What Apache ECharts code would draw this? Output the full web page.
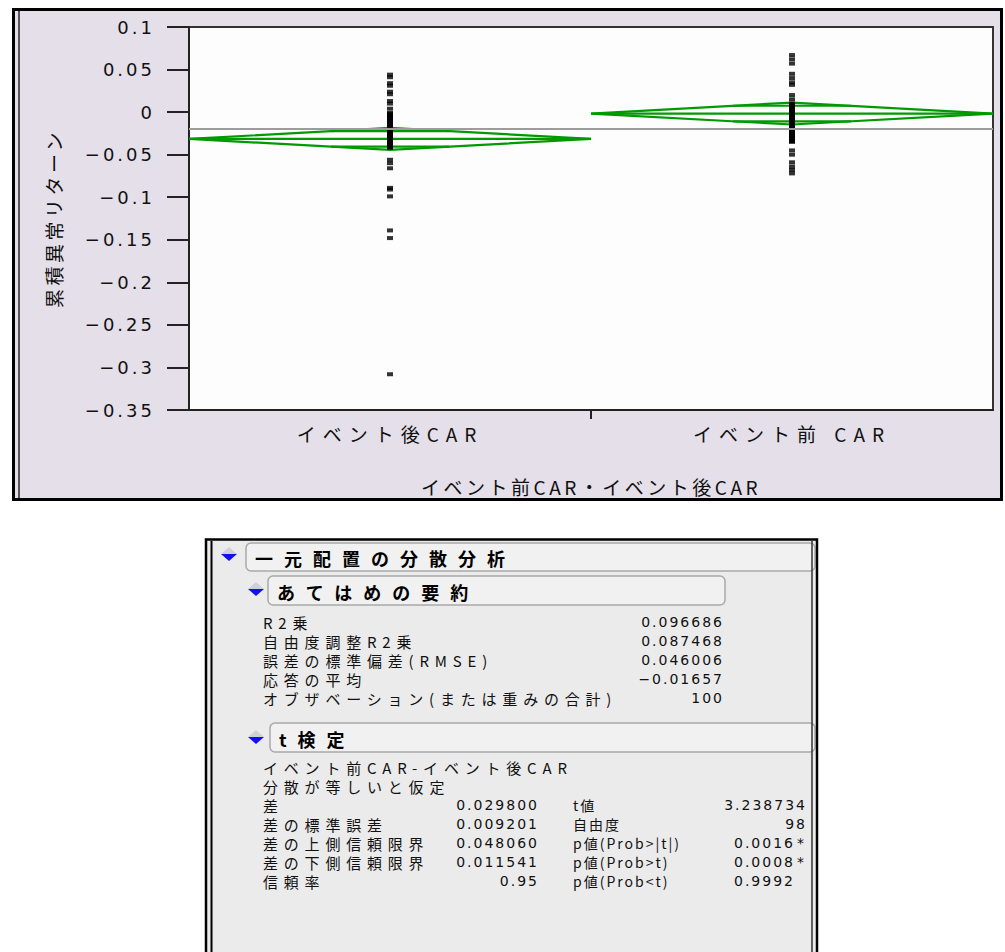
<!DOCTYPE html>
<html>
<head>
<meta charset="utf-8">
<script src="https://cdn.jsdelivr.net/npm/echarts@6/dist/echarts.min.js"></script>
<style>
  html, body { margin: 0; padding: 0; background: #ffffff; }
  #chart { width: 1005px; height: 952px; }
  /* wide, evenly spaced lettering of the report and axis texts */
  #chart text[style*="Roboto"] { letter-spacing: 11px; }
  #chart text[style*="Inter"] { letter-spacing: 5.8px; }
  #chart text[style*="Lato"] { letter-spacing: 2px; }
  #chart text[style*="Liberation"] { letter-spacing: 3px; }
  #chart text[style*="Open"] { letter-spacing: 7px; }
  #chart text[style*="Serif"] { letter-spacing: 3.5px; }
</style>
</head>
<body>
<div id="chart"></div>
<script>
// Groups on the x axis
const categories = ['イベント後CAR', 'イベント前 CAR'];

// Cumulative abnormal returns, one value per firm
const postEventCAR = [
  0.044, 0.041, 0.034, 0.031, 0.024, 0.021, 0.013, 0.010, 0.004,
  -0.001, -0.002, -0.004, -0.005, -0.007, -0.008, -0.010, -0.011, -0.013, -0.014,
  -0.016, -0.017, -0.019, -0.020, -0.022, -0.023, -0.025, -0.026, -0.028, -0.029,
  -0.031, -0.032, -0.033, -0.034, -0.035, -0.036, -0.037, -0.038, -0.039, -0.040,
  -0.041, -0.042,
  -0.056, -0.060, -0.066, -0.089, -0.091, -0.099, -0.139, -0.148, -0.308
];
const preEventCAR = [
  0.067, 0.062, 0.057, 0.045, 0.040, 0.035, 0.032, 0.020, 0.015,
  0.010, 0.009, 0.008, 0.006, 0.005, 0.003, 0.002, 0.000, -0.001, -0.003,
  -0.004, -0.006, -0.007, -0.009, -0.010, -0.012, -0.013, -0.015, -0.016, -0.018,
  -0.019, -0.021, -0.022, -0.024, -0.025, -0.026, -0.027, -0.028, -0.029, -0.030,
  -0.031, -0.032, -0.033, -0.034, -0.035,
  -0.045, -0.050, -0.059, -0.064, -0.068, -0.072
];

// Means diamonds: group mean, 95% interval and overlap marks
const groupMeans   = [-0.03147, -0.00167];
const ciLower      = [-0.04438, -0.01458];
const ciUpper      = [-0.01856,  0.01124];
const overlapLower = [-0.04060, -0.01080];
const overlapUpper = [-0.02234,  0.00746];
const meanResponse = -0.01657;

// y axis
const yMin = -0.35, yMax = 0.1, yStep = 0.05;
const yTickLabels = ['−0.35', '−0.3', '−0.25', '−0.2', '−0.15', '−0.1', '−0.05', '0', '0.05', '0.1'];
const groupDivider = [1];

// Report texts
const reportTitle = '一元配置の分散分析';
const fitTitle = 'あてはめの要約';
const fitLabels = ['R2乗', '自由度調整R2乗', '誤差の標準偏差(RMSE)', '応答の平均', 'オブザベーション(または重みの合計)'];
const fitValues = ['0.096686', '0.087468', '0.046006', '−0.01657', '100'];
const tTitle = 't検定';
const tHeaderLines = ['イベント前CAR-イベント後CAR', '分散が等しいと仮定'];
const tLabels = ['差', '差の標準誤差', '差の上側信頼限界', '差の下側信頼限界', '信頼率'];
const tValues = ['0.029800', '0.009201', '0.048060', '0.011541', '0.95'];
const tLabels2 = ['t値', '自由度', 'p値(Prob>|t|)', 'p値(Prob>t)', 'p値(Prob<t)'];
const tValues2 = ['3.238734', '98', '0.0016', '0.0008', '0.9992'];
const tFlags2 = ['', '', '*', '*', ''];

// font stacks (the second family also keys the letter spacing above)
const F_HEAD = "'Noto Sans CJK JP', Roboto";
const F_ROW = "'Noto Sans CJK JP', Inter";
const F_ROW2 = "'Noto Sans CJK JP', Lato";
const F_NUM = "'DejaVu Sans', Lato";
const F_TICK = "'DejaVu Sans', 'Liberation Sans'";
const F_CAT = "'Noto Sans CJK JP', 'Open Sans'";
const F_NAME = "'Noto Sans CJK JP', 'DejaVu Serif'";
const GREEN = '#009a00';

const chart = echarts.init(document.getElementById('chart'), null, { renderer: 'svg' });

// ---- report panel drawn with graphic elements ----
function text(x, y, str, opt) {
  return {
    type: 'text', z: 10,
    style: {
      x: x, y: y, text: str,
      fill: opt.fill || '#111',
      font: (opt.weight || 'normal') + ' ' + opt.size + 'px ' + opt.family,
      textAlign: opt.align || 'left',
      textVerticalAlign: 'middle'
    }
  };
}
function toggleIcon(cx, cy) {
  return [
    { type: 'polygon', z: 10, shape: { points: [[cx - 8, cy], [cx, cy - 7], [cx + 8, cy]] }, style: { fill: '#d0d0d8' } },
    { type: 'polygon', z: 10, shape: { points: [[cx - 8, cy], [cx, cy + 7], [cx + 8, cy]] }, style: { fill: '#1010f0' } }
  ];
}
function headerBox(x, y, w, h, label) {
  return [
    { type: 'rect', z: 9, shape: { x: x, y: y, width: w, height: h, r: 5 },
      style: { fill: '#f1f1f1', stroke: '#a9a9a9', lineWidth: 1.5 } },
    text(x + 9, y + h / 2 + 1, label, { size: 18, weight: 'bold', fill: '#000', family: F_HEAD })
  ];
}
const row = { size: 15, family: F_ROW };
const row2 = { size: 14, family: F_ROW2 };
const num = (align) => ({ size: 14, family: F_NUM, align: align });

const graphics = [];
// chart panel with its double left edge
graphics.push({ type: 'rect', z: -20, shape: { x: 13.5, y: 9.5, width: 988, height: 490 },
  style: { fill: '#e4dfe8', stroke: '#000', lineWidth: 3 } });
graphics.push({ type: 'line', z: -19, shape: { x1: 19, y1: 11, x2: 19, y2: 498 },
  style: { stroke: '#555', lineWidth: 2 } });
// report panel
graphics.push({ type: 'rect', z: 5, shape: { x: 206, y: 539, width: 611, height: 420 },
  style: { fill: '#ebebeb' } });
graphics.push(...toggleIcon(229, 554));
graphics.push(...headerBox(246, 543, 569, 28, reportTitle));
graphics.push(...toggleIcon(256, 589));
graphics.push(...headerBox(268, 576, 457, 29, fitTitle));
fitLabels.forEach((l, i) => {
  graphics.push(text(263, 622 + i * 19, l, row));
  graphics.push(text(724, 622 + i * 19, fitValues[i], num('right')));
});
graphics.push(...toggleIcon(256, 737));
graphics.push(...headerBox(270, 723, 545, 29, tTitle));
tHeaderLines.forEach((l, i) => {
  graphics.push(text(263, 767 + i * 19, l, row));
});
tLabels.forEach((l, i) => {
  const y = 805 + i * 19;
  graphics.push(text(263, y, l, row));
  graphics.push(text(539, y, tValues[i], num('right')));
  graphics.push(text(573, y, tLabels2[i], row2));
  const right = i >= 2 ? 795 : 807;
  graphics.push(text(right, y, tValues2[i], num('right')));
  if (tFlags2[i]) graphics.push(text(797, y, tFlags2[i], num('left')));
});
// report panel borders on top of the header boxes
graphics.push({ type: 'rect', z: 12, shape: { x: 206, y: 539.5, width: 611, height: 420 },
  style: { fill: 'none', stroke: '#000', lineWidth: 2.5 } });
graphics.push({ type: 'line', z: 12, shape: { x1: 211.5, y1: 541, x2: 211.5, y2: 952 },
  style: { stroke: '#000', lineWidth: 2 } });
graphics.push({ type: 'line', z: 12, shape: { x1: 812, y1: 541, x2: 812, y2: 952 },
  style: { stroke: '#333', lineWidth: 1.5 } });

// ---- plot ----
const diamondData = categories.map((c, i) =>
  [i, groupMeans[i], ciLower[i], ciUpper[i], overlapLower[i], overlapUpper[i]]);

function renderDiamond(params, api) {
  const g = api.value(0);
  const mean = api.value(1), lo = api.value(2), hi = api.value(3);
  const olo = api.value(4), ohi = api.value(5);
  const L = api.coord([g, mean]);
  const R = api.coord([g + 1, mean]);
  const T = api.coord([g + 0.5, hi]);
  const B = api.coord([g + 0.5, lo]);
  const cx = T[0];
  const half = (R[0] - L[0]) / 2;
  const children = [
    { type: 'polygon', shape: { points: [L, T, R, B] },
      style: { fill: 'none', stroke: GREEN, lineWidth: 2.2 } },
    { type: 'line', shape: { x1: L[0], y1: L[1], x2: R[0], y2: R[1] },
      style: { stroke: GREEN, lineWidth: 2.2 } }
  ];
  [[ohi, hi], [olo, lo]].forEach(function (p) {
    const y = api.coord([g + 0.5, p[0]])[1];
    const w = half * (1 - (p[0] - mean) / (p[1] - mean));
    children.push({ type: 'line', shape: { x1: cx - w, y1: y, x2: cx + w, y2: y },
      style: { stroke: GREEN, lineWidth: 2.2 } });
  });
  return { type: 'group', children: children };
}

const option = {
  backgroundColor: '#ffffff',
  animation: false,
  graphic: { elements: graphics },
  grid: {
    left: 189, top: 27, width: 804, height: 383,
    show: true, backgroundColor: '#fdfdfd', borderColor: '#333', borderWidth: 2, z: 0
  },
  xAxis: [
    {
      type: 'category', data: categories, boundaryGap: true,
      axisLine: { show: true, onZero: false, lineStyle: { color: '#222', width: 2 } },
      axisTick: { show: false },
      axisLabel: { margin: 14, fontSize: 19, color: '#111', fontFamily: F_CAT },
      name: 'イベント前CAR・イベント後CAR', nameLocation: 'middle', nameGap: 67,
      nameTextStyle: { fontSize: 19, color: '#111', fontFamily: F_NAME }
    },
    {
      type: 'value', min: 0, max: 2, interval: 1, position: 'bottom',
      axisLine: { show: false, onZero: false },
      axisLabel: { show: false },
      splitLine: { show: false },
      axisTick: { show: true, customValues: groupDivider, length: 9, lineStyle: { color: '#222', width: 2 } }
    }
  ],
  yAxis: {
    type: 'value', min: yMin, max: yMax, interval: yStep,
    axisLine: { show: true, onZero: false, lineStyle: { color: '#222', width: 2 } },
    axisTick: { show: true, length: 22, lineStyle: { color: '#222', width: 2 } },
    splitLine: { show: false },
    axisLabel: {
      margin: 34, fontSize: 18, color: '#111', fontFamily: F_TICK,
      formatter: function (v) { return yTickLabels[Math.round((v - yMin) / yStep)]; }
    },
    name: '累積異常リターン', nameLocation: 'middle', nameRotate: 90, nameGap: 126,
    nameTextStyle: { fontSize: 19, color: '#111', fontFamily: F_NAME }
  },
  series: [
    {
      type: 'line', data: [], xAxisIndex: 0, z: 1, silent: true,
      markLine: {
        silent: true, symbol: 'none', label: { show: false },
        lineStyle: { color: '#9c9c9c', width: 2, type: 'solid' },
        data: [{ yAxis: meanResponse }]
      }
    },
    {
      type: 'custom', xAxisIndex: 1, z: 2, silent: true,
      renderItem: renderDiamond,
      encode: { x: 0, y: [1, 2, 3] },
      data: diamondData
    },
    {
      type: 'scatter', xAxisIndex: 0, z: 3, silent: true,
      symbol: 'rect', symbolSize: [6, 4],
      itemStyle: { color: '#000' },
      data: postEventCAR.map(v => [0, v]).concat(preEventCAR.map(v => [1, v]))
    }
  ]
};
chart.setOption(option);
</script>
</body>
</html>
